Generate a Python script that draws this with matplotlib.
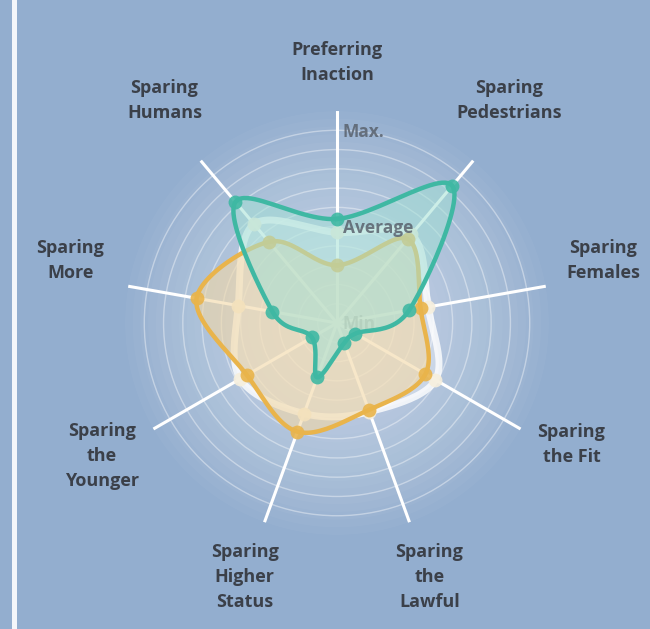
import numpy as np
import matplotlib.pyplot as plt
from matplotlib.patches import Rectangle

plt.rcParams['font.family'] = ['Open Sans', 'DejaVu Sans']

categories = ["Preferring\nInaction", "Sparing\nPedestrians", "Sparing\nFemales",
              "Sparing\nthe Fit", "Sparing\nthe\nLawful", "Sparing\nHigher\nStatus",
              "Sparing\nthe\nYounger", "Sparing\nMore", "Sparing\nHumans"]

# 0 = Min, 0.5 = Average, 1 = Max
teal = [0.54, 0.93, 0.38, 0.11, 0.11, 0.30, 0.15, 0.34, 0.82]
orange = [0.30, 0.57, 0.44, 0.53, 0.48, 0.60, 0.54, 0.74, 0.55]
pale = [0.47, 0.60, 0.48, 0.59, 0.49, 0.50, 0.58, 0.52, 0.67]

scale_labels = ["Min", "Average", "Max."]
scale_values = [0.0, 0.5, 1.0]

# label placement: radius and small angle nudge (degrees)
label_r = [1.35, 1.46, 1.42, 1.37, 1.40, 1.40, 1.40, 1.42, 1.46]
label_dt = [0, -2.2, -3.1, -2.6, 0, 0, 0.5, 3.1, 2.2]

BG = '#93AECF'
TEXT = '#3b4049'

n = len(categories)
theta = 2 * np.pi * np.arange(n) / n


def smooth_closed(th, r, steps=24):
    # catmull-rom through the points, computed in x/y then back to polar
    x = r * np.sin(th)
    y = r * np.cos(th)
    pts = np.column_stack([x, y])
    out = []
    m = len(pts)
    t = np.linspace(0, 1, steps, endpoint=False)[:, None]
    for i in range(m):
        p0, p1, p2, p3 = pts[i - 1], pts[i], pts[(i + 1) % m], pts[(i + 2) % m]
        seg = 0.5 * ((2 * p1) + (-p0 + p2) * t + (2 * p0 - 5 * p1 + 4 * p2 - p3) * t ** 2
                     + (-p0 + 3 * p1 - 3 * p2 + p3) * t ** 3)
        out.append(seg)
    out = np.vstack(out + [pts[:1]])
    rr = np.hypot(out[:, 0], out[:, 1])
    tt = np.unwrap(np.arctan2(out[:, 0], out[:, 1]))
    return tt, rr


fig = plt.figure(figsize=(6.5, 6.29), dpi=100, facecolor=BG)
fig.add_artist(Rectangle((12 / 650, 0), 5 / 650, 1, transform=fig.transFigure,
                         color='white', alpha=0.9, lw=0))

ax = fig.add_axes([0.1923, 0.1494, 0.6523, 0.6741], projection='polar')
ax.set_facecolor('none')
ax.set_theta_zero_location('N')
ax.set_theta_direction(-1)
ax.set_ylim(0, 1.1)
ax.spines['polar'].set_visible(False)
ax.set_xticks(theta)
ax.set_xticklabels([])
ax.set_yticks(np.linspace(0.1, 1.0, 10))
ax.set_yticklabels([])
ax.xaxis.grid(True, color='white', lw=2.2)
ax.yaxis.grid(True, color='white', lw=1.0, alpha=0.4)
ax.set_axisbelow(True)

# soft glow behind the rings
circ = np.linspace(0, 2 * np.pi, 200)
for rr in np.arange(0.1, 1.12, 0.04):
    ax.fill(circ, np.full_like(circ, rr), color='white', alpha=0.03, lw=0, zorder=0.1)

series = [
    (pale, 'white', 'white', 0.30, 0.8, 5.0, '#F6EFDD'),
    (orange, '#E9B44B', '#F2D8A6', 0.6, 1.0, 3.2, '#E9B44B'),
    (teal, '#3FB8A3', '#A3E0D5', 0.55, 1.0, 3.2, '#3FB8A3'),
]
for z, (vals, lc, fc, fa, la, lw, mc) in enumerate(series):
    vals = np.array(vals)
    tt, rr = smooth_closed(theta, vals)
    ax.fill(tt, rr, color=fc, alpha=fa, lw=0, zorder=2 + z)
    ax.plot(tt, rr, color=lc, alpha=la, lw=lw, zorder=2.1 + z)
    ax.plot(theta, vals, 'o', color=mc, ms=10, alpha=0.9, zorder=2.2 + z, mec='none')

for lab, v in zip(scale_labels, scale_values):
    ax.annotate(lab, xy=(0, v), xytext=(4, -1), textcoords='offset points',
                ha='left', va='center', fontsize=12.5, fontweight='bold',
                color='#5a626d', alpha=0.85, zorder=1.5 if lab == "Min" else 6)

for th, lab, lr, dt in zip(theta, categories, label_r, label_dt):
    ax.text(th + np.radians(dt), lr, lab, ha='center', va='center', fontsize=13,
            fontweight='bold', color=TEXT, linespacing=1.5, clip_on=False)

fig.savefig('out.png', dpi=100, facecolor=fig.get_facecolor())
